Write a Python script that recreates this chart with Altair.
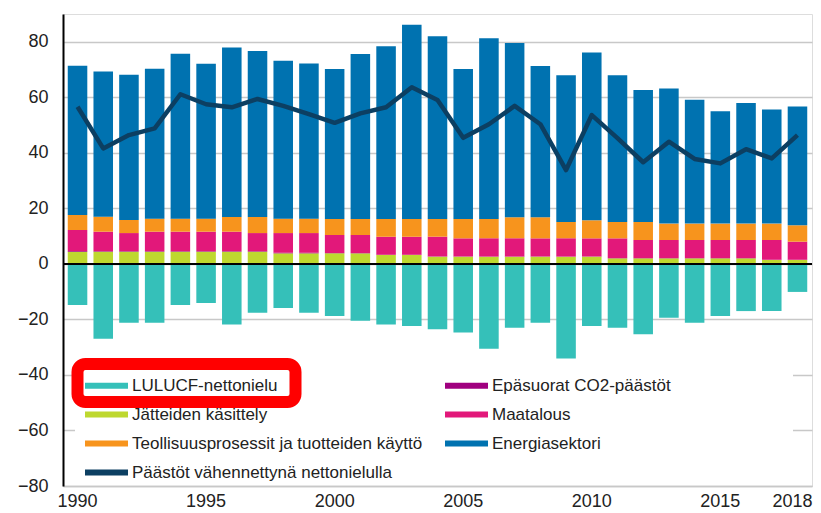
import altair as alt
import pandas as pd

years = list(range(1990, 2019))

energia = [53.8, 52.3, 52.3, 54.0, 59.4, 55.8, 61.0, 59.8, 56.9, 55.9,
           54.0, 59.4, 62.2, 69.9, 65.8, 54.0, 65.1, 62.8, 54.5, 52.8,
           60.4, 52.8, 47.5, 48.7, 44.6, 40.5, 43.4, 41.1, 42.8]
teollisuus = [5.4, 5.4, 4.7, 4.7, 4.7, 4.7, 5.3, 5.8, 5.2, 5.2,
              5.8, 5.8, 6.4, 6.4, 6.4, 7.0, 7.0, 7.6, 7.6, 5.9,
              6.5, 5.9, 6.5, 5.9, 5.9, 5.9, 5.9, 5.9, 5.9]
maatalous = [7.6, 7.0, 6.5, 7.0, 7.0, 7.0, 7.0, 6.5, 7.1, 7.1,
             6.5, 6.5, 6.5, 6.5, 7.1, 6.5, 6.5, 6.5, 6.5, 6.5,
             6.5, 7.1, 6.5, 6.5, 6.5, 6.5, 6.5, 7.1, 6.5]
jatteet = [4.4, 4.4, 4.4, 4.4, 4.4, 4.4, 4.4, 4.4, 3.8, 3.8,
           3.8, 3.8, 3.2, 3.2, 2.6, 2.6, 2.6, 2.6, 2.6, 2.6,
           2.6, 2.0, 2.0, 2.0, 2.0, 2.0, 2.0, 1.4, 1.4]
epasuorat = [0.2, 0.2, 0.2, 0.2, 0.2, 0.2, 0.2, 0.2, 0.2, 0.2,
             0.1, 0.1, 0.1, 0.1, 0.1, 0.1, 0.1, 0.1, 0.1, 0.1,
             0.1, 0.1, 0.1, 0.1, 0.1, 0.1, 0.1, 0.1, 0.1]
lulucf = [-14.8, -27.0, -21.2, -21.2, -14.8, -14.1, -21.8, -17.6, -15.9, -17.6,
          -18.8, -20.5, -21.8, -22.4, -23.5, -24.7, -30.6, -23.0, -21.2, -34.1,
          -22.4, -23.0, -25.3, -19.4, -21.2, -18.8, -17.0, -17.0, -10.1]
netto = [56.6, 41.6, 46.4, 48.8, 61.1, 57.5, 56.4, 59.4, 56.9, 53.9,
         50.8, 54.2, 56.4, 63.6, 59.0, 45.4, 50.3, 56.9, 50.3, 33.8,
         53.6, 45.3, 36.6, 44.0, 37.8, 36.2, 41.3, 38.0, 46.4]

S_LUL = "LULUCF-nettonielu"
S_EPA = "Epäsuorat CO2-päästöt"
S_JAT = "Jätteiden käsittely"
S_MAA = "Maatalous"
S_TEO = "Teollisuusprosessit ja tuotteiden käyttö"
S_ENE = "Energiasektori"
S_NET = "Päästöt vähennettynä nettonielulla"

# legend fills column by column: left column first, then right column
legend_order = [S_LUL, S_JAT, S_TEO, S_NET, S_EPA, S_MAA, S_ENE]
colors = ["#35C0B9", "#BED82F", "#F7941D", "#0C3F62", "#A0007F", "#E2187A", "#0072B0"]
x_labels = [1990, 1995, 2000, 2005, 2010, 2015, 2018]
y_ticks = [-80, -60, -40, -20, 0, 20, 40, 60, 80]

series = [(S_LUL, lulucf, 0), (S_JAT, jatteet, 1), (S_EPA, epasuorat, 2),
          (S_MAA, maatalous, 3), (S_TEO, teollisuus, 4), (S_ENE, energia, 5)]
rows = []
for i, yr in enumerate(years):
    for name, arr, rank in series:
        rows.append({"vuosi": yr, "sarja": name, "arvo": arr[i], "jarj": rank})
bars_df = pd.DataFrame(rows)
line_df = pd.DataFrame({"vuosi": years, "arvo": netto, "sarja": [S_NET] * len(years)})
one = pd.DataFrame({"a": [0]})

FONT = "Liberation Sans"

x_enc = alt.X("vuosi:O", title=None,
              scale=alt.Scale(paddingInner=0.24, paddingOuter=0.185),
              axis=alt.Axis(values=x_labels, labelAngle=0, ticks=False, grid=False,
                            domainColor="#C8C8C8", domainWidth=1.5,
                            labelFontSize=18, labelFont=FONT, labelColor="#222222",
                            labelPadding=6,
                            labelOffset={"condition": {"test": "datum.value == 2018",
                                                       "value": -5},
                                         "value": 0}))
y_scale = alt.Scale(domain=[-80, 90], nice=False, zero=False)
y_axis = alt.Axis(values=y_ticks, ticks=False, grid=True, gridColor="#C8C8C8",
                  gridWidth=1.5, domainColor="#000000", domainWidth=2,
                  labelFontSize=18, labelFont=FONT, labelColor="#222222",
                  labelPadding=15)

color_enc = alt.Color(
    "sarja:N",
    scale=alt.Scale(domain=legend_order, range=colors),
    legend=alt.Legend(title=None, orient="none", legendX=22, legendY=363,
                      columns=2, columnPadding=22, rowPadding=11,
                      symbolType="M-1,-0.36L4.06,-0.36L4.06,0.36L-1,0.36Z",
                      symbolSize=289, symbolStrokeWidth=0, symbolOpacity=1,
                      labelOffset=30, labelFontSize=17, labelFont=FONT,
                      labelColor="#222222", labelLimit=500),
)

white_box = alt.Chart(one).mark_rect(fill="white").encode(
    x=alt.value(12), x2=alt.value(730), y=alt.value(348), y2=alt.value(468))

bars = alt.Chart(bars_df).mark_bar().encode(
    x=x_enc,
    y=alt.Y("arvo:Q", stack="zero", scale=y_scale, axis=y_axis, title=None),
    color=color_enc,
    order=alt.Order("jarj:Q"),
)

zero_rule = alt.Chart(one).mark_rule(color="black", strokeWidth=2).encode(
    y=alt.datum(0))

line = alt.Chart(line_df).mark_line(strokeWidth=4.5, strokeJoin="round").encode(
    x=x_enc, y=alt.Y("arvo:Q", scale=y_scale), color=color_enc)

red_box = alt.Chart(one).mark_rect(filled=False, stroke="#FF0000", strokeWidth=12,
                                   cornerRadius=8).encode(
    x=alt.value(14.5), x2=alt.value(232.5), y=alt.value(350), y2=alt.value(388))

chart = alt.layer(white_box, bars, zero_rule, line, red_box).properties(
    width=749, height=472,
    autosize=alt.AutoSizeParams(type="none"),
    padding={"left": 55, "top": 6, "right": 1, "bottom": 27},
).configure_view(stroke=None).configure(background="white", font=FONT)

chart.save("out.html", embed_options={"renderer": "svg", "actions": False})
